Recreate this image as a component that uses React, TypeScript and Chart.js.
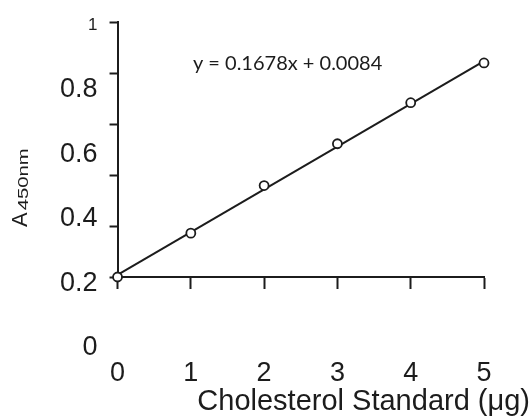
import React, { useEffect, useRef } from "react";
import { Chart, registerables } from "chart.js";

Chart.register(...registerables);

// ---- data ----
const xValues = [0, 1, 2, 3, 4, 5];
const absorbance = [0, 0.172, 0.359, 0.523, 0.684, 0.84];
const trendX = [0, 5];
const trendY = [0.0084, 0.8474];
const xTickValues = [0, 1, 2, 3, 4, 5];
const yTickValues = [0, 0.2, 0.4, 0.6, 0.8, 1];
const yTickLabels = ["0", "0.2", "0.4", "0.6", "0.8", "1"];
const equationText = "y = 0.1678x + 0.0084";
const equationPos = { x: 2.32, y: 0.836 };
const xTitle = "Cholesterol Standard (\u03bcg)";
const yTitleMain = "A";
const yTitleSub = "450nm";

const INK = "#1c1c1c";
const FONT = "'Liberation Sans', Arial, sans-serif";

const textPlugin = {
  id: "extraTexts",
  afterDraw(chart: any) {
    const ctx = chart.ctx as CanvasRenderingContext2D;
    const xs = chart.scales.x;
    const ys = chart.scales.y;
    ctx.save();
    ctx.fillStyle = INK;

    // regression equation
    ctx.font = "20px Lato, 'Open Sans', sans-serif";
    ctx.textAlign = "center";
    ctx.textBaseline = "middle";
    ctx.fillText(
      equationText,
      xs.getPixelForValue(equationPos.x),
      ys.getPixelForValue(equationPos.y)
    );

    // x axis title (right aligned near the right edge)
    ctx.font = `29px ${FONT}`;
    ctx.textAlign = "right";
    ctx.textBaseline = "alphabetic";
    ctx.fillText(xTitle, chart.width - 2, chart.height - 10);

    // y axis title: A with subscript 450nm, rotated
    ctx.save();
    ctx.translate(27, 227);
    ctx.rotate(-Math.PI / 2);
    ctx.textAlign = "left";
    ctx.textBaseline = "alphabetic";
    ctx.font = `22px ${FONT}`;
    ctx.fillText(yTitleMain, 0, 0);
    const aw = ctx.measureText(yTitleMain).width;
    ctx.translate(aw + 2, 1);
    ctx.scale(1.45, 1);
    ctx.font = `14px ${FONT}`;
    ctx.fillText(yTitleSub, 0, 0);
    ctx.restore();

    ctx.restore();
  },
};

export default function App() {
  const canvasRef = useRef<HTMLCanvasElement | null>(null);

  useEffect(() => {
    if (!canvasRef.current) return;
    const chart = new Chart(canvasRef.current, {
      type: "scatter",
      data: {
        datasets: [
          {
            label: "points",
            data: xValues.map((x, i) => ({ x, y: absorbance[i] })),
            pointRadius: 4.5,
            pointBorderWidth: 1.8,
            pointBackgroundColor: "#ffffff",
            pointBorderColor: INK,
            showLine: false,
            order: 1,
            clip: false,
          } as any,
          {
            label: "trend",
            type: "line",
            data: trendX.map((x, i) => ({ x, y: trendY[i] })),
            borderColor: INK,
            borderWidth: 2,
            pointRadius: 0,
            showLine: true,
            fill: false,
            order: 2,
            clip: false,
          } as any,
        ],
      },
      options: {
        animation: false,
        responsive: true,
        maintainAspectRatio: false,
        layout: { padding: { left: 48, top: 21, right: 48, bottom: -39 } },
        plugins: {
          legend: { display: false },
          tooltip: { enabled: false },
        },
        scales: {
          x: {
            type: "linear",
            position: "bottom",
            min: 0,
            max: 5,
            afterBuildTicks: (s: any) => {
              s.ticks = xTickValues.map((v) => ({ value: v }));
            },
            ticks: {
              color: INK,
              font: { family: FONT, size: 27, lineHeight: "140px" },
              padding: 15,
              autoSkip: false,
              maxRotation: 0,
              callback: (v: any) => String(v),
            },
            grid: {
              drawOnChartArea: false,
              drawTicks: true,
              tickLength: 12,
              tickWidth: 2,
              color: INK,
            },
            border: { color: INK, width: 2 },
          },
          y: {
            type: "linear",
            position: "left",
            weight: 0,
            min: 0,
            max: 1,
            afterBuildTicks: (s: any) => {
              s.ticks = yTickValues.map((v) => ({ value: v }));
            },
            ticks: { display: false },
            grid: {
              drawOnChartArea: false,
              drawTicks: true,
              tickLength: 8,
              tickWidth: 2,
              color: INK,
            },
            border: { color: INK, width: 2 },
          },
          yl: {
            type: "linear",
            position: "left",
            weight: 1,
            min: 0.21,
            max: 1,
            afterBuildTicks: (s: any) => {
              s.ticks = yTickValues.map((v) => ({ value: v }));
            },
            ticks: {
              color: INK,
              autoSkip: false,
              padding: 12,
              labelOffset: (c: any) => (c.tick && c.tick.value === 1 ? 0 : 3),
              font: (c: any) => ({
                family: FONT,
                size: c.tick && c.tick.value === 1 ? 17 : 27,
              }),
              callback: (v: any, i: number) => yTickLabels[i],
            },
            grid: { display: false, drawTicks: false },
            border: { display: false },
          },
        },
      } as any,
      plugins: [textPlugin],
    });
    return () => chart.destroy();
  }, []);

  return (
    <div
      style={{
        position: "fixed",
        left: 0,
        top: 0,
        width: 532,
        height: 420,
        background: "#fff",
      }}
    >
      <canvas ref={canvasRef} />
    </div>
  );
}
